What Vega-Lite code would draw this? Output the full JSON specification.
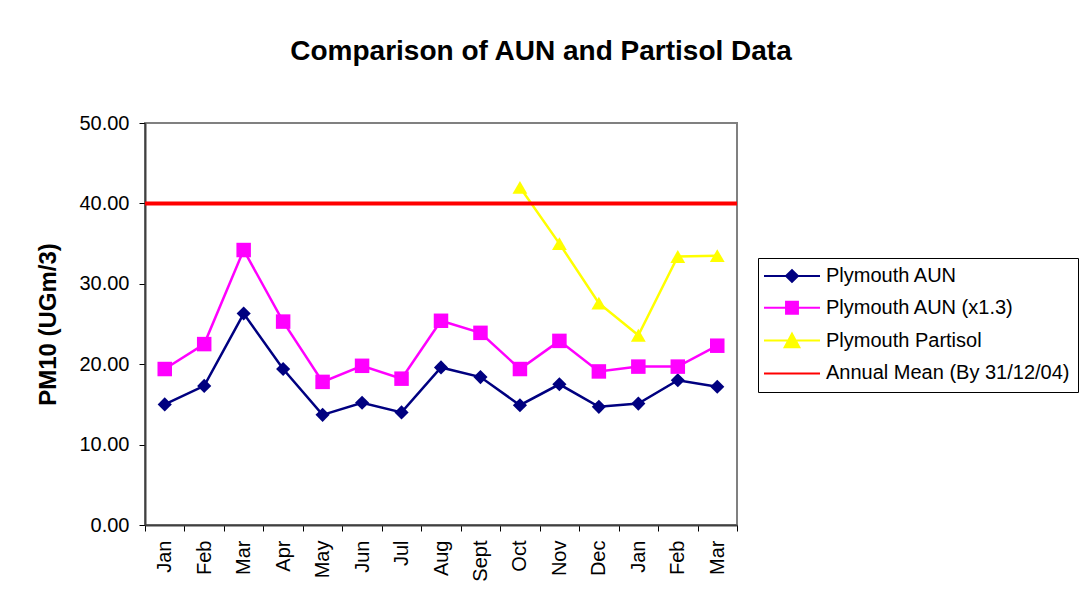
{
  "$schema": "https://vega.github.io/schema/vega-lite/v6.json",
  "width": 592,
  "height": 402,
  "autosize": {"type": "none"},
  "padding": {"left": 145, "top": 123, "right": 345, "bottom": 78},
  "background": "white",
  "config": {
    "font": "Liberation Sans",
    "view": {"stroke": "#808080", "strokeWidth": 2},
    "axis": {
      "grid": false,
      "domainColor": "#404040",
      "domainWidth": 2,
      "tickColor": "black",
      "tickWidth": 1,
      "tickSize": 6,
      "labelColor": "black",
      "labelFont": "Liberation Sans",
      "labelFontSize": 20,
      "titleColor": "black",
      "titleFont": "Liberation Sans"
    }
  },
  "title": {
    "text": "Comparison of AUN and Partisol Data",
    "fontSize": 28,
    "fontWeight": "bold",
    "font": "Liberation Sans",
    "color": "black",
    "anchor": "middle",
    "frame": "group",
    "dx": 100,
    "baseline": "alphabetic",
    "offset": 25
  },
  "data": {
    "values": [
      {"m": "Jan-1", "s": "Plymouth AUN", "v": 15.0},
      {"m": "Feb-1", "s": "Plymouth AUN", "v": 17.3},
      {"m": "Mar-1", "s": "Plymouth AUN", "v": 26.3},
      {"m": "Apr", "s": "Plymouth AUN", "v": 19.4},
      {"m": "May", "s": "Plymouth AUN", "v": 13.7},
      {"m": "Jun", "s": "Plymouth AUN", "v": 15.2},
      {"m": "Jul", "s": "Plymouth AUN", "v": 14.0},
      {"m": "Aug", "s": "Plymouth AUN", "v": 19.6},
      {"m": "Sept", "s": "Plymouth AUN", "v": 18.4},
      {"m": "Oct", "s": "Plymouth AUN", "v": 14.9},
      {"m": "Nov", "s": "Plymouth AUN", "v": 17.5},
      {"m": "Dec", "s": "Plymouth AUN", "v": 14.7},
      {"m": "Jan-2", "s": "Plymouth AUN", "v": 15.1},
      {"m": "Feb-2", "s": "Plymouth AUN", "v": 18.0},
      {"m": "Mar-2", "s": "Plymouth AUN", "v": 17.2},
      {"m": "Jan-1", "s": "Plymouth AUN (x1.3)", "v": 19.4},
      {"m": "Feb-1", "s": "Plymouth AUN (x1.3)", "v": 22.5},
      {"m": "Mar-1", "s": "Plymouth AUN (x1.3)", "v": 34.2},
      {"m": "Apr", "s": "Plymouth AUN (x1.3)", "v": 25.3},
      {"m": "May", "s": "Plymouth AUN (x1.3)", "v": 17.8},
      {"m": "Jun", "s": "Plymouth AUN (x1.3)", "v": 19.8},
      {"m": "Jul", "s": "Plymouth AUN (x1.3)", "v": 18.2},
      {"m": "Aug", "s": "Plymouth AUN (x1.3)", "v": 25.4},
      {"m": "Sept", "s": "Plymouth AUN (x1.3)", "v": 23.9},
      {"m": "Oct", "s": "Plymouth AUN (x1.3)", "v": 19.4},
      {"m": "Nov", "s": "Plymouth AUN (x1.3)", "v": 22.9},
      {"m": "Dec", "s": "Plymouth AUN (x1.3)", "v": 19.1},
      {"m": "Jan-2", "s": "Plymouth AUN (x1.3)", "v": 19.7},
      {"m": "Feb-2", "s": "Plymouth AUN (x1.3)", "v": 19.7},
      {"m": "Mar-2", "s": "Plymouth AUN (x1.3)", "v": 22.3},
      {"m": "Oct", "s": "Plymouth Partisol", "v": 42.0},
      {"m": "Nov", "s": "Plymouth Partisol", "v": 35.0},
      {"m": "Dec", "s": "Plymouth Partisol", "v": 27.6},
      {"m": "Jan-2", "s": "Plymouth Partisol", "v": 23.6},
      {"m": "Feb-2", "s": "Plymouth Partisol", "v": 33.4},
      {"m": "Mar-2", "s": "Plymouth Partisol", "v": 33.5}
    ]
  },
  "encoding": {
    "x": {
      "field": "m",
      "type": "nominal",
      "bandPosition": 0.5,
      "scale": {
        "type": "band",
        "paddingInner": 0,
        "paddingOuter": 0,
        "domain": ["Jan-1", "Feb-1", "Mar-1", "Apr", "May", "Jun", "Jul", "Aug", "Sept", "Oct", "Nov", "Dec", "Jan-2", "Feb-2", "Mar-2"]
      },
      "axis": {
        "title": null,
        "tickBand": "extent",
        "labelAngle": 270,
        "labelAlign": "right",
        "labelBaseline": "middle",
        "labelPadding": 9,
        "labelExpr": "isValid(datum.value) ? split(datum.value, '-')[0] : ''"
      }
    },
    "y": {
      "field": "v",
      "type": "quantitative",
      "scale": {"domain": [0, 50], "nice": false, "zero": true},
      "axis": {
        "title": "PM10 (UGm/3)",
        "titleFontSize": 24,
        "titleFontWeight": "bold",
        "titlePadding": 18,
        "values": [0, 10, 20, 30, 40, 50],
        "format": ".2f",
        "labelPadding": 10
      }
    }
  },
  "layer": [
    {
      "mark": {"type": "line", "strokeWidth": 2.5},
      "encoding": {
        "color": {
          "field": "s",
          "type": "nominal",
          "scale": {
            "domain": ["Plymouth AUN", "Plymouth AUN (x1.3)", "Plymouth Partisol", "Annual Mean (By 31/12/04)"],
            "range": ["#000080", "#ff00ff", "#ffff00", "#ff0000"]
          },
          "legend": {
            "title": null,
            "orient": "none",
            "legendX": 613,
            "legendY": 135,
            "direction": "vertical",
            "fillColor": "white",
            "strokeColor": "black",
            "padding": 8,
            "cornerRadius": 0,
            "labelFont": "Liberation Sans",
            "labelFontSize": 20,
            "labelColor": "black",
            "labelLimit": 400,
            "symbolSize": 196,
            "symbolStrokeWidth": 2,
            "symbolOffset": 16,
            "labelOffset": 24,
            "rowPadding": 11.8,
            "encode": {
              "symbols": {
                "update": {
                  "shape": {"signal": "datum.value === 'Plymouth AUN' ? 'M-4,0H4M-0.85,0L0,-0.85L0.85,0L0,0.85Z' : datum.value === 'Plymouth AUN (x1.3)' ? 'M-4,0H4M-0.85,-0.85H0.85V0.85H-0.85Z' : datum.value === 'Plymouth Partisol' ? 'M-4,0H4M0,-1L1.05,0.95H-1.05Z' : 'M-4,0H4'"},
                  "fill": {"signal": "datum.value === 'Plymouth AUN' ? '#000080' : datum.value === 'Plymouth AUN (x1.3)' ? '#ff00ff' : datum.value === 'Plymouth Partisol' ? '#ffff00' : '#ff0000'"},
                  "stroke": {"signal": "datum.value === 'Plymouth AUN' ? '#000080' : datum.value === 'Plymouth AUN (x1.3)' ? '#ff00ff' : datum.value === 'Plymouth Partisol' ? '#ffff00' : '#ff0000'"},
                  "strokeWidth": {"value": 2},
                  "size": {"value": 196},
                  "opacity": {"value": 1}
                }
              }
            }
          }
        }
      }
    },
    {
      "mark": {"type": "point", "filled": true, "opacity": 1},
      "encoding": {
        "color": {"field": "s", "type": "nominal", "legend": null},
        "shape": {
          "field": "s",
          "type": "nominal",
          "scale": {
            "domain": ["Plymouth AUN", "Plymouth AUN (x1.3)", "Plymouth Partisol"],
            "range": ["diamond", "square", "triangle-up"]
          },
          "legend": null
        },
        "size": {
          "field": "s",
          "type": "nominal",
          "scale": {
            "domain": ["Plymouth AUN", "Plymouth AUN (x1.3)", "Plymouth Partisol"],
            "range": [200, 220, 260]
          },
          "legend": null
        }
      }
    },
    {
      "data": {"values": [{"s": "Annual Mean (By 31/12/04)", "v": 40}]},
      "mark": {"type": "rule", "strokeWidth": 4},
      "encoding": {
        "x": null,
        "y": {"field": "v", "type": "quantitative"},
        "color": {"field": "s", "type": "nominal", "legend": null}
      }
    }
  ]
}
